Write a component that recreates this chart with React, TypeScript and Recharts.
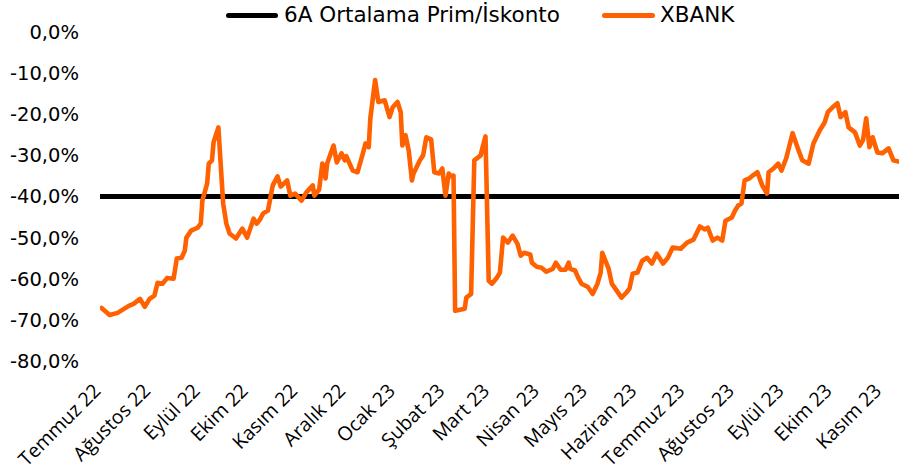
import React from 'react';
import { LineChart, Line, XAxis, YAxis, Legend } from 'recharts';

// X axis: days since 2022-07-01 (first day of each month gets a label)
const monthTickDays = [0, 31, 62, 92, 123, 153, 184, 215, 243, 274, 304, 335, 365, 396, 427, 457, 488];
const monthLabels = [
  'Temmuz 22', 'Ağustos 22', 'Eylül 22', 'Ekim 22', 'Kasım 22', 'Aralık 22',
  'Ocak 23', 'Şubat 23', 'Mart 23', 'Nisan 23', 'Mayıs 23', 'Haziran 23',
  'Temmuz 23', 'Ağustos 23', 'Eylül 23', 'Ekim 23', 'Kasım 23',
];
const yTicks = [0, -10, -20, -30, -40, -50, -60, -70, -80];

// XBANK premium/discount (%) by day offset from 2022-07-01
const dayOffsets = [
  1, 6, 11, 18, 21, 25, 28, 31, 34, 36,
  39, 42, 46, 48, 51, 53, 54, 57, 61, 63,
  64, 67, 68, 70, 71, 74, 77, 79, 81, 85,
  89, 92, 96, 98, 100, 102, 105, 108, 111, 113,
  117, 119, 122, 126, 129, 133, 134, 137, 139, 141,
  142, 146, 148, 151, 153, 154, 158, 161, 164, 166,
  168, 169, 172, 174, 178, 181, 183, 186, 188, 189,
  191, 193, 195, 196, 200, 202, 204, 207, 209, 212,
  214, 216, 218, 219, 221, 222, 228, 229, 232, 234,
  238, 239, 241, 243, 245, 248, 250, 252, 255, 258,
  261, 263, 265, 269, 270, 273, 276, 279, 283, 285,
  288, 291, 293, 294, 297, 299, 301, 305, 308, 311,
  313, 314, 318, 320, 323, 326, 329, 331, 333, 336,
  339, 342, 345, 348, 352, 355, 358, 363, 367, 371,
  375, 378, 380, 383, 386, 389, 391, 395, 397, 399,
  401, 403, 406, 408, 411, 414, 417, 418, 421, 424,
  426, 429, 433, 436, 439, 443, 446, 450, 453, 455,
  458, 461, 463, 466, 468, 472, 475, 477, 479, 481,
  483, 486, 489, 493, 496, 499,
];
const xbankValues = [
  -67.1, -68.8, -68.3, -66.6, -66.1, -64.9, -66.8, -64.9, -64.1, -61.0,
  -61.2, -59.8, -60.0, -55.1, -54.9, -53.2, -50.0, -48.3, -47.6, -46.6,
  -41.0, -36.8, -32.0, -31.2, -26.8, -23.2, -41.7, -46.6, -49.0, -50.2,
  -47.8, -50.0, -45.4, -46.6, -45.6, -44.1, -43.4, -37.3, -35.1, -37.6,
  -36.1, -39.8, -39.3, -41.0, -39.0, -37.3, -39.8, -38.3, -32.0, -35.6,
  -32.0, -27.6, -31.7, -29.5, -31.2, -30.2, -33.7, -34.1, -30.0, -27.1,
  -28.0, -21.0, -11.7, -17.0, -16.6, -20.7, -18.3, -17.0, -19.5, -27.6,
  -25.1, -28.8, -36.1, -34.4, -31.2, -30.0, -25.6, -26.1, -34.1, -34.4,
  -33.2, -39.8, -34.4, -35.1, -34.9, -67.8, -67.3, -64.6, -63.7, -31.2,
  -30.0, -28.3, -25.4, -60.5, -61.2, -59.8, -58.5, -50.0, -51.2, -49.5,
  -51.5, -54.4, -53.7, -54.1, -56.1, -57.1, -57.3, -58.3, -57.6, -56.1,
  -57.8, -57.8, -56.1, -57.6, -58.0, -59.8, -61.2, -62.0, -63.7, -61.2,
  -58.5, -53.7, -57.6, -61.2, -62.9, -64.6, -63.4, -62.4, -58.8, -58.5,
  -55.6, -54.9, -56.3, -53.9, -56.3, -54.9, -52.4, -52.7, -51.2, -50.5,
  -47.3, -48.0, -47.6, -50.7, -50.0, -50.7, -45.9, -45.1, -43.4, -42.2,
  -41.7, -36.1, -35.6, -34.9, -34.1, -37.3, -39.3, -34.1, -33.2, -32.0,
  -33.7, -30.7, -24.6, -28.0, -31.2, -32.0, -27.1, -23.9, -22.0, -19.5,
  -18.3, -17.3, -20.7, -19.5, -23.2, -24.4, -27.6, -26.3, -21.0, -28.0,
  -25.6, -29.3, -29.5, -28.3, -31.2, -31.5,
];

// 6-month average premium/discount
const avgDays = [0, 499.5];
const avgValues = [-40, -40];

const xbankData = dayOffsets.map((d, i) => ({ day: d, xbank: xbankValues[i] }));
const avgData = avgDays.map((d, i) => ({ day: d, avg: avgValues[i] }));

const ORANGE = '#FF6000';
const fmtPct = (v: number) => v.toFixed(1).replace('.', ',') + '%';

const XTick = (props: any) => {
  const { x, y, payload } = props;
  const idx = monthTickDays.indexOf(payload.value);
  const ax = x + 2;
  const ay = y + 31;
  return (
    <text
      x={ax}
      y={ay}
      textAnchor="end"
      transform={`rotate(-45 ${ax} ${ay})`}
      fontFamily="Open Sans"
      fontSize={19.5}
      fill="#000"
    >
      {monthLabels[idx]}
    </text>
  );
};

const LegendContent = () => (
  <div
    style={{
      position: 'relative',
      width: 899,
      height: 30,
      fontFamily: 'DejaVu Sans',
      fontSize: 21.5,
      lineHeight: '30px',
      color: '#000',
      whiteSpace: 'nowrap',
    }}
  >
    <div style={{ position: 'absolute', left: 226, top: 12.5, width: 52, height: 5, background: '#000', borderRadius: 3 }} />
    <span style={{ position: 'absolute', left: 284, top: 0 }}>6A Ortalama Prim/İskonto</span>
    <div style={{ position: 'absolute', left: 602, top: 12.5, width: 53, height: 5, background: ORANGE, borderRadius: 3 }} />
    <span style={{ position: 'absolute', left: 660, top: 0 }}>XBANK</span>
  </div>
);

export default function App() {
  return (
    <div style={{ position: 'absolute', left: 0, top: 0, background: '#fff' }}>
      <LineChart width={899} height={471} margin={{ top: 32, right: 0, bottom: 0, left: 0 }}>
        <XAxis
          dataKey="day"
          type="number"
          domain={[0, 499.5]}
          ticks={monthTickDays}
          interval={0}
          tick={<XTick />}
          tickLine={false}
          axisLine={false}
          tickSize={0}
          tickMargin={0}
          height={110}
          allowDataOverflow
        />
        <YAxis
          type="number"
          domain={[-80, 0]}
          ticks={yTicks}
          interval={0}
          width={100}
          tickLine={false}
          axisLine={false}
          tickSize={0}
          tickMargin={21}
          tickFormatter={fmtPct}
          tick={{ fontFamily: 'DejaVu Sans', fontSize: 19.5, fill: '#000' }}
        />
        <Legend
          layout="horizontal"
          verticalAlign="middle"
          align="center"
          wrapperStyle={{ top: 0, left: 0, width: 899, height: 30 }}
          content={<LegendContent />}
        />
        <Line
          data={avgData}
          dataKey="avg"
          name="6A Ortalama Prim/İskonto"
          stroke="#000"
          strokeWidth={5}
          dot={false}
          type="linear"
          isAnimationActive={false}
        />
        <Line
          data={xbankData}
          dataKey="xbank"
          name="XBANK"
          stroke={ORANGE}
          strokeWidth={4.6}
          strokeLinejoin="round"
          strokeLinecap="round"
          dot={false}
          type="linear"
          isAnimationActive={false}
        />
      </LineChart>
    </div>
  );
}
